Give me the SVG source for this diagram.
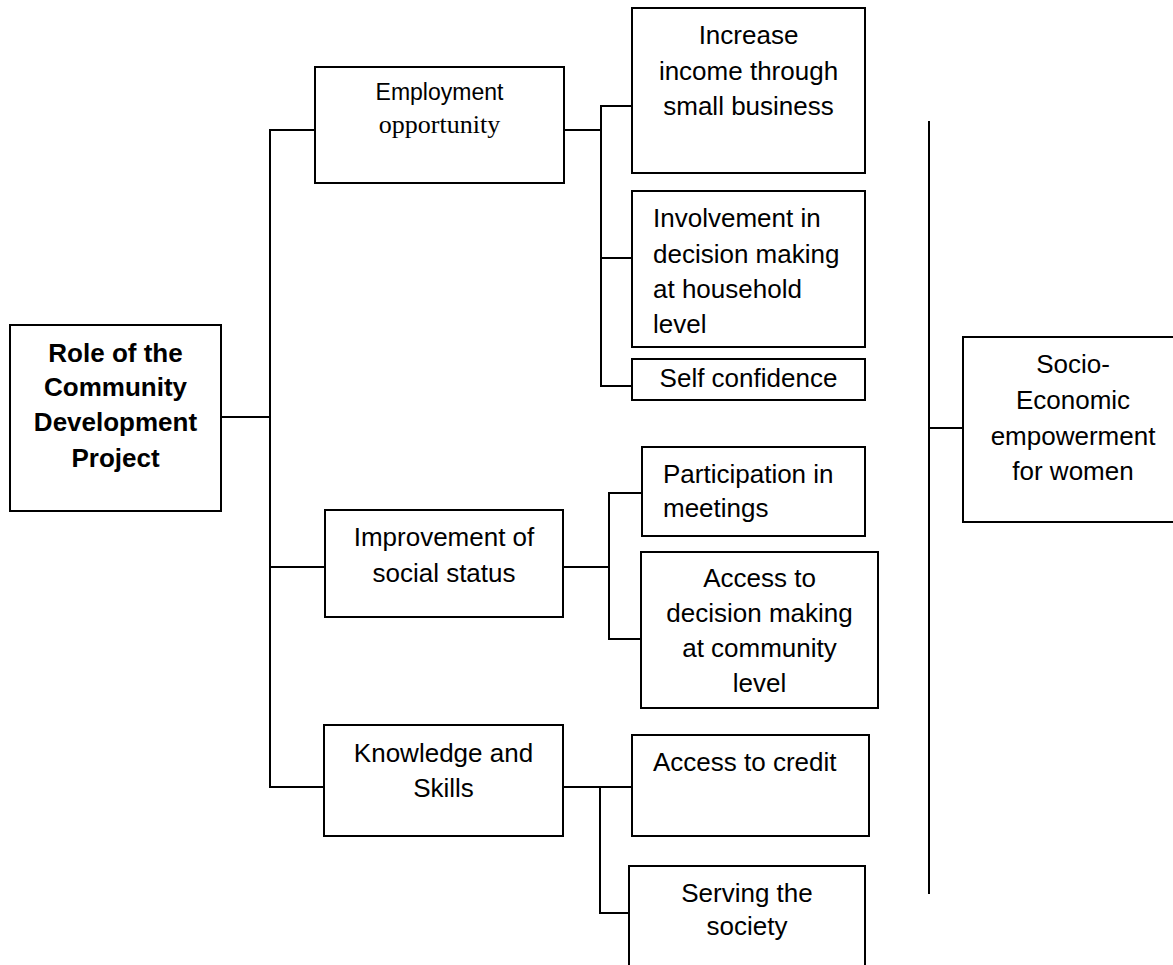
<svg xmlns="http://www.w3.org/2000/svg" width="1173" height="965" viewBox="0 0 1173 965">
<style>
.box{fill:#fff;stroke:#000;stroke-width:2}
.ln{fill:none;stroke:#000;stroke-width:2}
.t{font-family:"Liberation Sans",Arial,sans-serif;font-size:26px;fill:#000}
.c{text-anchor:middle}
.b{font-weight:bold}
</style>
<rect width="1173" height="965" fill="#fff"/>
<g id="connectors">
<polyline class="ln" points="221,417 270,417"/>
<polyline class="ln" points="315,130 270,130 270,787 324,787"/>
<polyline class="ln" points="270,567 325,567"/>
<polyline class="ln" points="564,130 601,130"/>
<polyline class="ln" points="632,106 601,106 601,386 632,386"/>
<polyline class="ln" points="601,258 632,258"/>
<polyline class="ln" points="563,567 609,567"/>
<polyline class="ln" points="642,493 609,493 609,639 641,639"/>
<polyline class="ln" points="563,787 632,787"/>
<polyline class="ln" points="600,787 600,913 629,913"/>
<polyline class="ln" points="929,121 929,894"/>
<polyline class="ln" points="929,428 963,428"/>
</g>
<g id="root">
<rect class="box" x="10" y="325" width="211" height="186"/>
<text class="t c b" x="115.5" y="362">Role of the</text>
<text class="t c b" x="115.5" y="396">Community</text>
<text class="t c b" x="115.5" y="431">Development</text>
<text class="t c b" x="115.5" y="467">Project</text>
</g>
<g id="employment">
<rect class="box" x="315" y="67" width="249" height="116"/>
<text class="c" x="439.5" y="100" font-family="Liberation Sans, Arial, sans-serif" font-size="23">Employment</text>
<text class="c" x="439.5" y="133" font-family="Liberation Serif, Times New Roman, serif" font-size="26">opportunity</text>
</g>
<g id="income">
<rect class="box" x="632" y="8" width="233" height="165"/>
<text class="t c" x="748.5" y="44">Increase</text>
<text class="t c" x="748.5" y="80">income through</text>
<text class="t c" x="748.5" y="115">small business</text>
</g>
<g id="household">
<rect class="box" x="632" y="191" width="233" height="156"/>
<text class="t" x="653" y="227">Involvement in</text>
<text class="t" x="653" y="263">decision making</text>
<text class="t" x="653" y="298">at household</text>
<text class="t" x="653" y="333">level</text>
</g>
<g id="confidence">
<rect class="box" x="632" y="359" width="233" height="41"/>
<text class="t c" x="748.5" y="387">Self confidence</text>
</g>
<g id="social">
<rect class="box" x="325" y="510" width="238" height="107"/>
<text class="t c" x="444" y="546">Improvement of</text>
<text class="t c" x="444" y="582">social status</text>
</g>
<g id="meetings">
<rect class="box" x="642" y="447" width="223" height="89"/>
<text class="t" x="663" y="483">Participation in</text>
<text class="t" x="663" y="517">meetings</text>
</g>
<g id="community">
<rect class="box" x="641" y="552" width="237" height="156"/>
<text class="t c" x="759.5" y="587">Access to</text>
<text class="t c" x="759.5" y="622">decision making</text>
<text class="t c" x="759.5" y="657">at community</text>
<text class="t c" x="759.5" y="692">level</text>
</g>
<g id="knowledge">
<rect class="box" x="324" y="725" width="239" height="111"/>
<text class="t c" x="443.5" y="762">Knowledge and</text>
<text class="t c" x="443.5" y="797">Skills</text>
</g>
<g id="credit">
<rect class="box" x="632" y="735" width="237" height="101"/>
<text class="t" x="653" y="771">Access to credit</text>
</g>
<g id="society">
<rect class="box" x="629" y="866" width="236" height="110"/>
<text class="t c" x="747" y="902">Serving the</text>
<text class="t c" x="747" y="935">society</text>
</g>
<g id="empowerment">
<rect class="box" x="963" y="337" width="220" height="185"/>
<text class="t c" x="1073" y="373">Socio-</text>
<text class="t c" x="1073" y="409">Economic</text>
<text class="t c" x="1073" y="445">empowerment</text>
<text class="t c" x="1073" y="480">for women</text>
</g>
</svg>
